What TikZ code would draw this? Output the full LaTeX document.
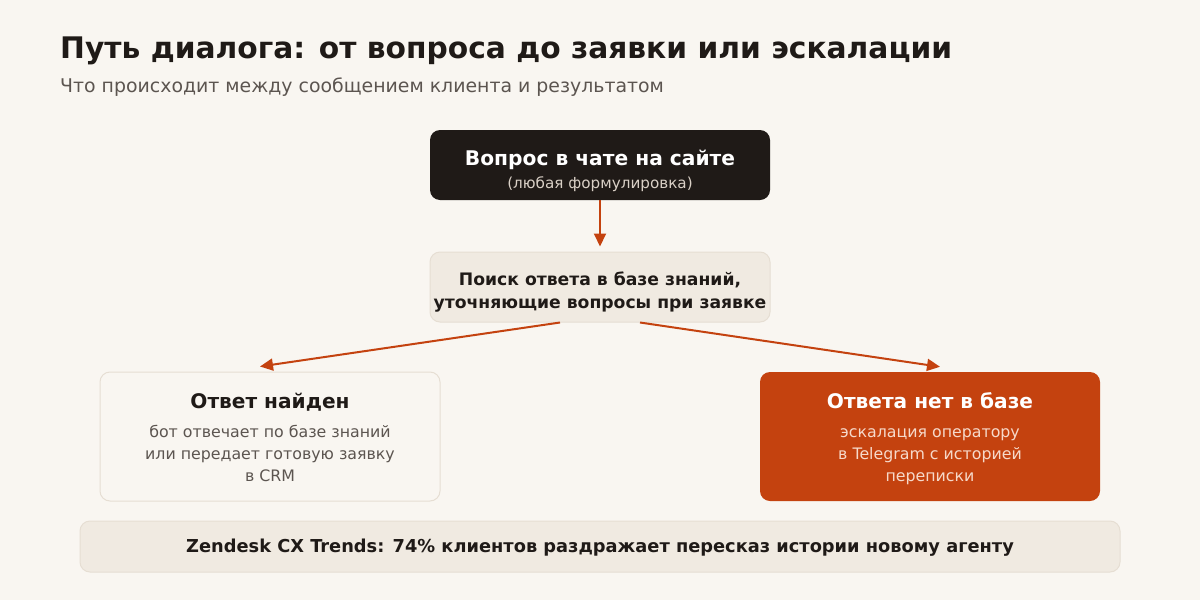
\documentclass[tikz,border=0pt]{standalone}
\usepackage{fontspec}
\setmainfont{DejaVu Sans}
\usetikzlibrary{calc,arrows.meta}
\definecolor{paper}{HTML}{F9F6F1}
\definecolor{ink}{HTML}{1F1A17}
\definecolor{rust}{HTML}{C4420F}
\definecolor{sand}{HTML}{F0EAE1}
\definecolor{sandline}{HTML}{E6DED3}
\definecolor{muted}{HTML}{5C5550}
\definecolor{softgray}{HTML}{D9D0C6}
\definecolor{softrust}{HTML}{F6D9CA}

\tikzset{
  box/.style={rectangle, rounded corners=10pt, minimum width=340pt, inner sep=0pt},
  flow/.style={rust, line width=2pt, -{Triangle[length=13pt,width=12pt]}},
  txt/.style={anchor=base, inner sep=0pt, align=center}
}

\begin{document}
\begin{tikzpicture}[x=1pt, y=-1pt]
    % Canvas
    \fill[paper] (0,0) rectangle (1200,600);
    \useasboundingbox (0,0) rectangle (1200,600);

    % Heading
    \node[anchor=base west, inner sep=0pt, font=\bfseries\fontsize{29.7}{34}\selectfont, text=ink] (title) at (60,58) {Путь диалога: от вопроса до заявки или эскалации};
    \node[anchor=base west, inner sep=0pt, font=\fontsize{18.9}{22}\selectfont, text=muted] (subtitle) at (60,92) {Что происходит между сообщением клиента и результатом};

    % Boxes
    \node[box, fill=ink, minimum height=70pt] (ask) at (600,165) {};
    \node[box, fill=sand, draw=sandline, line width=1pt, minimum height=70pt] (search) at (600,287) {};
    \node[box, fill=paper, draw=sandline, line width=1pt, minimum height=129pt] (found) at (270,436.5) {};
    \node[box, fill=rust, minimum height=129pt] (escal) at (930,436.5) {};
    \node[box, fill=sand, draw=sandline, line width=1pt, minimum width=1040pt, minimum height=51pt] (stat) at (600,546.5) {};

    % Box texts (base of a multi-line node = its last line)
    \node[txt, font=\bfseries\fontsize{20.2}{24}\selectfont, text=white] (askT) at (600,165) {Вопрос в чате на сайте};
    \node[txt, font=\fontsize{15.2}{18}\selectfont, text=softgray] (askS) at (600,188) {(любая формулировка)};

    \node[txt, font=\bfseries\fontsize{17.2}{23}\selectfont, text=ink] (searchT) at (600,308) {Поиск ответа в базе знаний,\\уточняющие вопросы при заявке};

    \node[txt, font=\bfseries\fontsize{20.1}{24}\selectfont, text=ink] (foundT) at (270,408) {Ответ найден};
    \node[txt, font=\fontsize{15.8}{22}\selectfont, text=muted] (foundS) at (270,481) {бот отвечает по базе знаний\\или передает готовую заявку\\в CRM};

    \node[txt, font=\bfseries\fontsize{20.1}{24}\selectfont, text=white] (escalT) at (930,408) {Ответа нет в базе};
    \node[txt, font=\fontsize{15.8}{22}\selectfont, text=softrust] (escalS) at (930,481) {эскалация оператору\\в Telegram с историей\\переписки};

    \node[txt, font=\bfseries\fontsize{17.8}{21}\selectfont, text=ink] (statT) at (600,552) {Zendesk CX Trends: 74\% клиентов раздражает пересказ истории новому агенту};

    % Arrows
    \draw[flow, shorten >=5pt] (ask.south) -- (search.north);
    \draw[flow] ($(search.south)+(-40,0)$) -- ($(found.north)+(-10,-5)$);
    \draw[flow] ($(search.south)+(40,0)$) -- ($(escal.north)+(10,-5)$);
\end{tikzpicture}
\end{document}
